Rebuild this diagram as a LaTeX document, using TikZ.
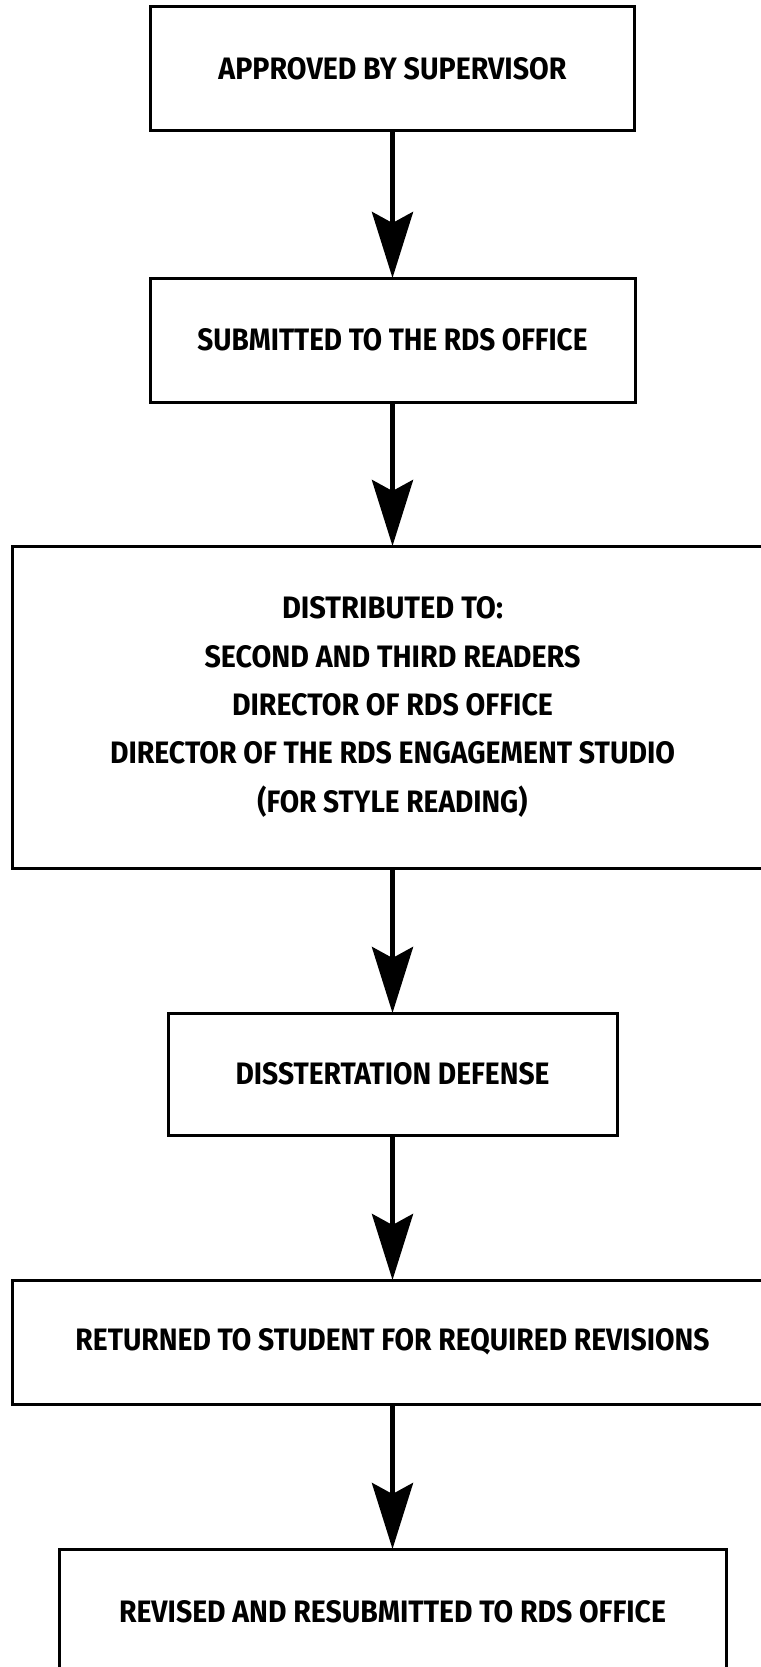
\documentclass[tikz,border=0pt]{standalone}
\usepackage{fontspec}
\setmainfont{Fira Sans}
\usepackage{graphicx}
\usetikzlibrary{arrows.meta}
\newcommand{\fw}[2]{\resizebox{#1pt}{\height}{#2}}
\tikzset{
  stepbox/.style={draw=black, line width=3pt, rectangle, inner sep=0pt, outer sep=0pt,
    align=center, font=\fontsize{31pt}{48.3pt}\selectfont\bfseries},
  flowarrow/.style={line width=5pt, -{Stealth[length=66pt,width=41pt,inset=11pt]}}
}
\begin{document}
\begin{tikzpicture}[x=1pt,y=-1pt]
\useasboundingbox (0,0) rectangle (760,1667);
\node[stepbox, minimum width=484pt, minimum height=124pt] (b1) at (392.5,69) {\fw{348}{APPROVED BY SUPERVISOR}};
\node[stepbox, minimum width=485pt, minimum height=124pt] (b2) at (392.5,340) {\fw{390}{SUBMITTED TO THE RDS OFFICE}};
\node[stepbox, minimum width=760pt, minimum height=322pt] (b3) at (392.5,707) {\fw{221}{DISTRIBUTED TO:}\\\fw{376}{SECOND AND THIRD READERS}\\\fw{321}{DIRECTOR OF RDS OFFICE}\\\fw{565}{DIRECTOR OF THE RDS ENGAGEMENT STUDIO}\\\fw{270}{(FOR STYLE READING)}};
\node[stepbox, minimum width=449pt, minimum height=122pt] (b4) at (392.5,1074) {\fw{314}{DISSTERTATION DEFENSE}};
\node[stepbox, minimum width=760pt, minimum height=124pt] (b5) at (392.5,1342) {\fw{634}{RETURNED TO STUDENT FOR REQUIRED REVISIONS}};
\node[stepbox, minimum width=667pt, minimum height=126pt] (b6) at (392.5,1612) {\fw{547}{REVISED AND RESUBMITTED TO RDS OFFICE}};
\draw[flowarrow] (b1) -- (b2);
\draw[flowarrow] (b2) -- (b3);
\draw[flowarrow] (b3) -- (b4);
\draw[flowarrow] (b4) -- (b5);
\draw[flowarrow] (b5) -- (b6);
\end{tikzpicture}
\end{document}
